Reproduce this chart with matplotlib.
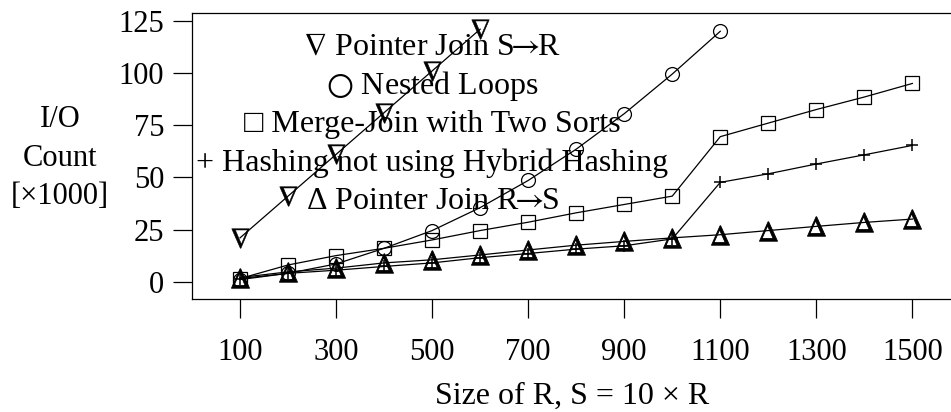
import matplotlib
matplotlib.use("Agg")
import matplotlib.pyplot as plt

plt.rcParams['font.family'] = ['Liberation Serif', 'DejaVu Serif']
plt.rcParams['mathtext.fontset'] = 'stix'

# size of R
size_r = [100, 200, 300, 400, 500, 600, 700, 800, 900, 1000, 1100, 1200, 1300, 1400, 1500]

# I/O count in thousands
ptr_s_r_x = [100, 200, 300, 400, 500, 600]
ptr_s_r = [21, 41, 61, 81, 101, 121]

nested_x = [100, 200, 300, 400, 500, 600, 700, 800, 900, 1000, 1100]
nested = [1, 4, 8.5, 16, 24.5, 35.5, 48.5, 63.5, 80.5, 99.5, 120]

merge = [1.5, 8, 12.5, 16, 20, 24.5, 28.5, 33, 37, 41, 69.5, 76, 82.5, 88.5, 95]
hashing = [1.5, 4, 5.5, 7.3, 9, 11.5, 13.5, 15.6, 17.2, 20.5, 47.6, 51.7, 56.4, 60.8, 65.3]
ptr_r_s = [2, 4.7, 6.5, 9, 10.5, 12.8, 15.2, 17.5, 19.3, 21, 22.5, 24.5, 26.5, 28.4, 30]

arrow = "$\\!\\!\\rightarrow\\!\\!$"
legend_lines = ["$\\nabla$ Pointer Join S" + arrow + "R",
                "$\\bigcirc$ Nested Loops",
                "\u25a1 Merge-Join with Two Sorts",
                "+ Hashing not using Hybrid Hashing",
                "\u0394 Pointer Join R" + arrow + "S"]
legend_y = [108.7, 90, 71.8, 53.2, 35]

xticks = [100, 300, 500, 700, 900, 1100, 1300, 1500]
yticks = [0, 25, 50, 75, 100, 125]

fig = plt.figure(figsize=(9.51, 4.12), dpi=100)
ax = fig.add_axes([192 / 951, 1 - 299 / 412, (960.4 - 192) / 951, (299 - 12.5) / 412])

lw = 0.9
ax.plot(ptr_s_r_x, ptr_s_r, color='black', lw=lw, marker='$\\nabla$', ms=14, mew=0.4)
ax.plot(nested_x, nested, color='black', lw=lw, marker='o', ms=10, mfc='none', mew=0.9)
ax.plot(size_r, merge, color='black', lw=lw, marker='s', ms=10, mfc='none', mew=0.9)
ax.plot(size_r, hashing, color='black', lw=lw, marker='+', ms=8, mew=1.1)
ax.plot(size_r, ptr_r_s, color='black', lw=lw, marker='$\\Delta$', ms=14, mew=0.6)

for txt, yy in zip(legend_lines, legend_y):
    ax.text(500, yy, txt, ha='center', va='baseline', fontsize=23)

ax.set_xlim(0, 1600)
ax.set_ylim(-8.3, 129.0)
ax.set_xticks(xticks)
ax.set_yticks(yticks)
ax.tick_params(axis='both', labelsize=22, length=14, width=0.9, direction='out')
ax.tick_params(axis='x', pad=14)
ax.tick_params(axis='y', pad=6)
for sp in ax.spines.values():
    sp.set_linewidth(0.9)

fig.text(60 / 951, 1 - 158 / 412, "I/O\nCount\n[\u00d71000]", ha='center', va='center',
         fontsize=22, linespacing=1.45)
fig.text(572 / 951, 1 - 396 / 412, "Size of R, S = 10 \u00d7 R", ha='center', va='center',
         fontsize=23)

fig.savefig("out.png", dpi=100)
